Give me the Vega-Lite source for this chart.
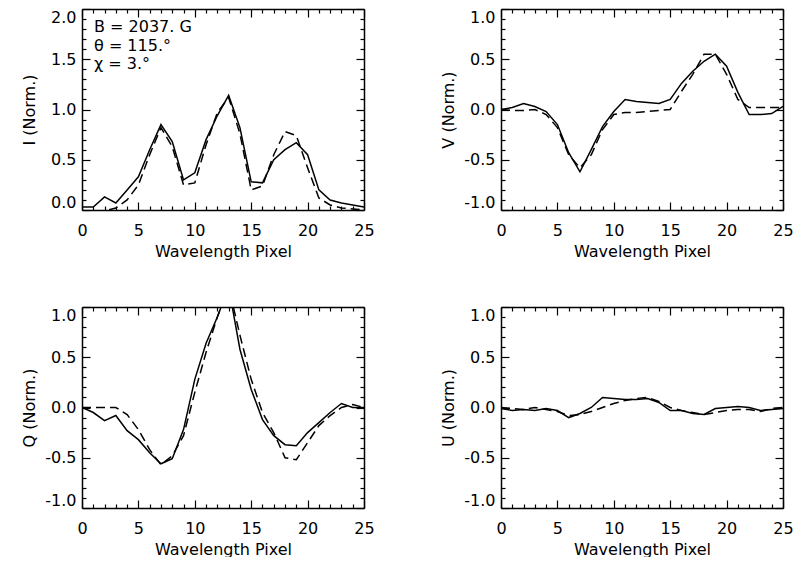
{
  "$schema": "https://vega.github.io/schema/vega-lite/v6.json",
  "padding": {"left": 21, "top": 8, "right": 0, "bottom": 0},
  "background": "white",
  "bounds": "flush",
  "spacing": {"row": 97, "column": 137},
  "columns": 2,
  "data": {"values": [
    {"p":"I","s":"o","x":0,"y":0.03},{"p":"I","s":"o","x":1,"y":0.03},{"p":"I","s":"o","x":2,"y":0.13},{"p":"I","s":"o","x":3,"y":0.07},{"p":"I","s":"o","x":4,"y":0.2},{"p":"I","s":"o","x":5,"y":0.33},{"p":"I","s":"o","x":6,"y":0.6},{"p":"I","s":"o","x":7,"y":0.85},{"p":"I","s":"o","x":8,"y":0.68},{"p":"I","s":"o","x":9,"y":0.3},{"p":"I","s":"o","x":10,"y":0.37},{"p":"I","s":"o","x":11,"y":0.7},{"p":"I","s":"o","x":12,"y":0.94},{"p":"I","s":"o","x":13,"y":1.14},{"p":"I","s":"o","x":14,"y":0.82},{"p":"I","s":"o","x":15,"y":0.28},{"p":"I","s":"o","x":16,"y":0.27},{"p":"I","s":"o","x":17,"y":0.5},{"p":"I","s":"o","x":18,"y":0.6},{"p":"I","s":"o","x":19,"y":0.67},{"p":"I","s":"o","x":20,"y":0.55},{"p":"I","s":"o","x":21,"y":0.2},{"p":"I","s":"o","x":22,"y":0.1},{"p":"I","s":"o","x":23,"y":0.07},{"p":"I","s":"o","x":24,"y":0.05},{"p":"I","s":"o","x":25,"y":0.03},
    {"p":"I","s":"f","x":0,"y":-0.05},{"p":"I","s":"f","x":1,"y":-0.05},{"p":"I","s":"f","x":2,"y":-0.01},{"p":"I","s":"f","x":3,"y":0.02},{"p":"I","s":"f","x":4,"y":0.1},{"p":"I","s":"f","x":5,"y":0.25},{"p":"I","s":"f","x":6,"y":0.55},{"p":"I","s":"f","x":7,"y":0.82},{"p":"I","s":"f","x":8,"y":0.63},{"p":"I","s":"f","x":9,"y":0.25},{"p":"I","s":"f","x":10,"y":0.27},{"p":"I","s":"f","x":11,"y":0.65},{"p":"I","s":"f","x":12,"y":0.97},{"p":"I","s":"f","x":13,"y":1.12},{"p":"I","s":"f","x":14,"y":0.76},{"p":"I","s":"f","x":15,"y":0.2},{"p":"I","s":"f","x":16,"y":0.24},{"p":"I","s":"f","x":17,"y":0.55},{"p":"I","s":"f","x":18,"y":0.78},{"p":"I","s":"f","x":19,"y":0.74},{"p":"I","s":"f","x":20,"y":0.42},{"p":"I","s":"f","x":21,"y":0.12},{"p":"I","s":"f","x":22,"y":0.05},{"p":"I","s":"f","x":23,"y":0.02},{"p":"I","s":"f","x":24,"y":0.01},{"p":"I","s":"f","x":25,"y":0.0},
    {"p":"V","s":"o","x":0,"y":0.0},{"p":"V","s":"o","x":1,"y":0.02},{"p":"V","s":"o","x":2,"y":0.06},{"p":"V","s":"o","x":3,"y":0.03},{"p":"V","s":"o","x":4,"y":-0.02},{"p":"V","s":"o","x":5,"y":-0.15},{"p":"V","s":"o","x":6,"y":-0.43},{"p":"V","s":"o","x":7,"y":-0.62},{"p":"V","s":"o","x":8,"y":-0.4},{"p":"V","s":"o","x":9,"y":-0.17},{"p":"V","s":"o","x":10,"y":-0.02},{"p":"V","s":"o","x":11,"y":0.1},{"p":"V","s":"o","x":12,"y":0.08},{"p":"V","s":"o","x":13,"y":0.07},{"p":"V","s":"o","x":14,"y":0.06},{"p":"V","s":"o","x":15,"y":0.1},{"p":"V","s":"o","x":16,"y":0.26},{"p":"V","s":"o","x":17,"y":0.38},{"p":"V","s":"o","x":18,"y":0.48},{"p":"V","s":"o","x":19,"y":0.55},{"p":"V","s":"o","x":20,"y":0.43},{"p":"V","s":"o","x":21,"y":0.17},{"p":"V","s":"o","x":22,"y":-0.05},{"p":"V","s":"o","x":23,"y":-0.05},{"p":"V","s":"o","x":24,"y":-0.04},{"p":"V","s":"o","x":25,"y":0.03},
    {"p":"V","s":"f","x":0,"y":0.0},{"p":"V","s":"f","x":1,"y":-0.01},{"p":"V","s":"f","x":2,"y":-0.01},{"p":"V","s":"f","x":3,"y":0.0},{"p":"V","s":"f","x":4,"y":-0.05},{"p":"V","s":"f","x":5,"y":-0.18},{"p":"V","s":"f","x":6,"y":-0.45},{"p":"V","s":"f","x":7,"y":-0.58},{"p":"V","s":"f","x":8,"y":-0.45},{"p":"V","s":"f","x":9,"y":-0.2},{"p":"V","s":"f","x":10,"y":-0.05},{"p":"V","s":"f","x":11,"y":-0.03},{"p":"V","s":"f","x":12,"y":-0.03},{"p":"V","s":"f","x":13,"y":-0.02},{"p":"V","s":"f","x":14,"y":-0.01},{"p":"V","s":"f","x":15,"y":0.0},{"p":"V","s":"f","x":16,"y":0.18},{"p":"V","s":"f","x":17,"y":0.35},{"p":"V","s":"f","x":18,"y":0.55},{"p":"V","s":"f","x":19,"y":0.55},{"p":"V","s":"f","x":20,"y":0.35},{"p":"V","s":"f","x":21,"y":0.1},{"p":"V","s":"f","x":22,"y":0.02},{"p":"V","s":"f","x":23,"y":0.02},{"p":"V","s":"f","x":24,"y":0.02},{"p":"V","s":"f","x":25,"y":0.02},
    {"p":"Q","s":"o","x":0,"y":0.0},{"p":"Q","s":"o","x":1,"y":-0.05},{"p":"Q","s":"o","x":2,"y":-0.13},{"p":"Q","s":"o","x":3,"y":-0.08},{"p":"Q","s":"o","x":4,"y":-0.23},{"p":"Q","s":"o","x":5,"y":-0.32},{"p":"Q","s":"o","x":6,"y":-0.45},{"p":"Q","s":"o","x":7,"y":-0.56},{"p":"Q","s":"o","x":8,"y":-0.51},{"p":"Q","s":"o","x":9,"y":-0.22},{"p":"Q","s":"o","x":10,"y":0.28},{"p":"Q","s":"o","x":11,"y":0.64},{"p":"Q","s":"o","x":12,"y":0.9},{"p":"Q","s":"o","x":13,"y":1.2},{"p":"Q","s":"o","x":14,"y":0.58},{"p":"Q","s":"o","x":15,"y":0.18},{"p":"Q","s":"o","x":16,"y":-0.12},{"p":"Q","s":"o","x":17,"y":-0.28},{"p":"Q","s":"o","x":18,"y":-0.37},{"p":"Q","s":"o","x":19,"y":-0.38},{"p":"Q","s":"o","x":20,"y":-0.25},{"p":"Q","s":"o","x":21,"y":-0.15},{"p":"Q","s":"o","x":22,"y":-0.05},{"p":"Q","s":"o","x":23,"y":0.04},{"p":"Q","s":"o","x":24,"y":0.0},{"p":"Q","s":"o","x":25,"y":0.0},
    {"p":"Q","s":"f","x":0,"y":0.0},{"p":"Q","s":"f","x":1,"y":0.0},{"p":"Q","s":"f","x":2,"y":0.0},{"p":"Q","s":"f","x":3,"y":0.0},{"p":"Q","s":"f","x":4,"y":-0.07},{"p":"Q","s":"f","x":5,"y":-0.22},{"p":"Q","s":"f","x":6,"y":-0.42},{"p":"Q","s":"f","x":7,"y":-0.57},{"p":"Q","s":"f","x":8,"y":-0.48},{"p":"Q","s":"f","x":9,"y":-0.28},{"p":"Q","s":"f","x":10,"y":0.15},{"p":"Q","s":"f","x":11,"y":0.55},{"p":"Q","s":"f","x":12,"y":0.9},{"p":"Q","s":"f","x":13,"y":1.2},{"p":"Q","s":"f","x":14,"y":0.72},{"p":"Q","s":"f","x":15,"y":0.28},{"p":"Q","s":"f","x":16,"y":-0.05},{"p":"Q","s":"f","x":17,"y":-0.25},{"p":"Q","s":"f","x":18,"y":-0.5},{"p":"Q","s":"f","x":19,"y":-0.52},{"p":"Q","s":"f","x":20,"y":-0.35},{"p":"Q","s":"f","x":21,"y":-0.18},{"p":"Q","s":"f","x":22,"y":-0.08},{"p":"Q","s":"f","x":23,"y":0.0},{"p":"Q","s":"f","x":24,"y":0.03},{"p":"Q","s":"f","x":25,"y":0.0},
    {"p":"U","s":"o","x":0,"y":-0.01},{"p":"U","s":"o","x":1,"y":-0.03},{"p":"U","s":"o","x":2,"y":-0.02},{"p":"U","s":"o","x":3,"y":-0.03},{"p":"U","s":"o","x":4,"y":-0.01},{"p":"U","s":"o","x":5,"y":-0.03},{"p":"U","s":"o","x":6,"y":-0.1},{"p":"U","s":"o","x":7,"y":-0.06},{"p":"U","s":"o","x":8,"y":0.0},{"p":"U","s":"o","x":9,"y":0.1},{"p":"U","s":"o","x":10,"y":0.09},{"p":"U","s":"o","x":11,"y":0.08},{"p":"U","s":"o","x":12,"y":0.08},{"p":"U","s":"o","x":13,"y":0.09},{"p":"U","s":"o","x":14,"y":0.05},{"p":"U","s":"o","x":15,"y":-0.03},{"p":"U","s":"o","x":16,"y":-0.03},{"p":"U","s":"o","x":17,"y":-0.06},{"p":"U","s":"o","x":18,"y":-0.07},{"p":"U","s":"o","x":19,"y":-0.01},{"p":"U","s":"o","x":20,"y":0.0},{"p":"U","s":"o","x":21,"y":0.01},{"p":"U","s":"o","x":22,"y":0.0},{"p":"U","s":"o","x":23,"y":-0.03},{"p":"U","s":"o","x":24,"y":-0.02},{"p":"U","s":"o","x":25,"y":-0.01},
    {"p":"U","s":"f","x":0,"y":0.0},{"p":"U","s":"f","x":1,"y":-0.01},{"p":"U","s":"f","x":2,"y":-0.02},{"p":"U","s":"f","x":3,"y":0.0},{"p":"U","s":"f","x":4,"y":-0.02},{"p":"U","s":"f","x":5,"y":-0.04},{"p":"U","s":"f","x":6,"y":-0.08},{"p":"U","s":"f","x":7,"y":-0.07},{"p":"U","s":"f","x":8,"y":-0.04},{"p":"U","s":"f","x":9,"y":0.0},{"p":"U","s":"f","x":10,"y":0.04},{"p":"U","s":"f","x":11,"y":0.07},{"p":"U","s":"f","x":12,"y":0.09},{"p":"U","s":"f","x":13,"y":0.1},{"p":"U","s":"f","x":14,"y":0.06},{"p":"U","s":"f","x":15,"y":0.0},{"p":"U","s":"f","x":16,"y":-0.03},{"p":"U","s":"f","x":17,"y":-0.05},{"p":"U","s":"f","x":18,"y":-0.07},{"p":"U","s":"f","x":19,"y":-0.05},{"p":"U","s":"f","x":20,"y":-0.03},{"p":"U","s":"f","x":21,"y":-0.02},{"p":"U","s":"f","x":22,"y":-0.02},{"p":"U","s":"f","x":23,"y":-0.04},{"p":"U","s":"f","x":24,"y":-0.01},{"p":"U","s":"f","x":25,"y":0.0}
  ]},
  "concat": [
    {
      "width": 282, "height": 201,
      "title": {"text": ["B = 2037. G", "θ = 115.°", "χ = 3.°"], "anchor": "start", "frame": "group", "orient": "top", "baseline": "top", "offset": -64, "dx": 12, "fontSize": 16, "fontWeight": "normal", "lineHeight": 18.5, "font": "DejaVu Sans", "color": "black"},
      "layer": [
        {"transform": [{"filter": "datum.p == 'I' && datum.s == 'o'"}],
         "mark": {"type": "line", "clip": true, "color": "black", "strokeWidth": 1.5},
         "encoding": {
           "x": {"field": "x", "type": "quantitative", "scale": {"domain": [0, 25], "nice": false, "zero": false},
                 "axis": {"orient": "bottom", "values": [0,1,2,3,4,5,6,7,8,9,10,11,12,13,14,15,16,17,18,19,20,21,22,23,24,25], "tickSize": {"condition": {"test": "datum.value % 5 === 0", "value": -8}, "value": -4}, "labelExpr": "datum.value % 5 === 0 ? datum.label : ''", "labelFlush": false, "labelOverlap": false, "labelPadding": 20, "title": "Wavelength Pixel", "titleY": 33, "titleBaseline": "top"}},
           "y": {"field": "y", "type": "quantitative", "scale": {"domain": [0, 2], "nice": false, "zero": false},
                 "axis": {"orient": "left", "values": [0,0.1,0.2,0.3,0.4,0.5,0.6,0.7,0.8,0.9,1,1.1,1.2,1.3,1.4,1.5,1.6,1.7,1.8,1.9,2], "tickSize": {"condition": {"test": "abs(datum.value*2 - round(datum.value*2)) < 0.001", "value": -8}, "value": -4}, "labelExpr": "abs(datum.value*2 - round(datum.value*2)) < 0.001 ? (datum.value < 0 ? '-' : '') + format(abs(datum.value), '.1f') : ''", "labelFlush": true, "labelOverlap": false, "labelPadding": 14, "title": "I (Norm.)", "titleX": -45, "titleY": 100.5}}
         }},
        {"transform": [{"filter": "datum.p == 'I' && datum.s == 'f'"}],
         "mark": {"type": "line", "clip": true, "color": "black", "strokeWidth": 1.5, "strokeDash": [9, 5]},
         "encoding": {
           "x": {"field": "x", "type": "quantitative", "scale": {"domain": [0, 25], "nice": false, "zero": false},
                 "axis": {"orient": "top", "values": [0,1,2,3,4,5,6,7,8,9,10,11,12,13,14,15,16,17,18,19,20,21,22,23,24,25], "tickSize": {"condition": {"test": "datum.value % 5 === 0", "value": -8}, "value": -4}, "labels": false, "title": null}},
           "y": {"field": "y", "type": "quantitative", "scale": {"domain": [0, 2], "nice": false, "zero": false},
                 "axis": {"orient": "right", "values": [0,0.1,0.2,0.3,0.4,0.5,0.6,0.7,0.8,0.9,1,1.1,1.2,1.3,1.4,1.5,1.6,1.7,1.8,1.9,2], "tickSize": {"condition": {"test": "abs(datum.value*2 - round(datum.value*2)) < 0.001", "value": -8}, "value": -4}, "labels": false, "title": null}}
         }}
      ],
      "resolve": {"axis": {"x": "independent", "y": "independent"}}
    },
    {
      "width": 282, "height": 201,
      "layer": [
        {"transform": [{"filter": "datum.p == 'V' && datum.s == 'o'"}],
         "mark": {"type": "line", "clip": true, "color": "black", "strokeWidth": 1.5},
         "encoding": {
           "x": {"field": "x", "type": "quantitative", "scale": {"domain": [0, 25], "nice": false, "zero": false},
                 "axis": {"orient": "bottom", "values": [0,1,2,3,4,5,6,7,8,9,10,11,12,13,14,15,16,17,18,19,20,21,22,23,24,25], "tickSize": {"condition": {"test": "datum.value % 5 === 0", "value": -8}, "value": -4}, "labelExpr": "datum.value % 5 === 0 ? datum.label : ''", "labelFlush": false, "labelOverlap": false, "labelPadding": 20, "title": "Wavelength Pixel", "titleY": 33, "titleBaseline": "top"}},
           "y": {"field": "y", "type": "quantitative", "scale": {"domain": [-1, 1], "nice": false, "zero": false},
                 "axis": {"orient": "left", "values": [-1,-0.9,-0.8,-0.7,-0.6,-0.5,-0.4,-0.3,-0.2,-0.1,0,0.1,0.2,0.3,0.4,0.5,0.6,0.7,0.8,0.9,1], "tickSize": {"condition": {"test": "abs(datum.value*2 - round(datum.value*2)) < 0.001", "value": -8}, "value": -4}, "labelExpr": "abs(datum.value*2 - round(datum.value*2)) < 0.001 ? (datum.value < 0 ? '-' : '') + format(abs(datum.value), '.1f') : ''", "labelFlush": true, "labelOverlap": false, "labelPadding": 14, "title": "V (Norm.)", "titleX": -45, "titleY": 100.5}}
         }},
        {"transform": [{"filter": "datum.p == 'V' && datum.s == 'f'"}],
         "mark": {"type": "line", "clip": true, "color": "black", "strokeWidth": 1.5, "strokeDash": [9, 5]},
         "encoding": {
           "x": {"field": "x", "type": "quantitative", "scale": {"domain": [0, 25], "nice": false, "zero": false},
                 "axis": {"orient": "top", "values": [0,1,2,3,4,5,6,7,8,9,10,11,12,13,14,15,16,17,18,19,20,21,22,23,24,25], "tickSize": {"condition": {"test": "datum.value % 5 === 0", "value": -8}, "value": -4}, "labels": false, "title": null}},
           "y": {"field": "y", "type": "quantitative", "scale": {"domain": [-1, 1], "nice": false, "zero": false},
                 "axis": {"orient": "right", "values": [-1,-0.9,-0.8,-0.7,-0.6,-0.5,-0.4,-0.3,-0.2,-0.1,0,0.1,0.2,0.3,0.4,0.5,0.6,0.7,0.8,0.9,1], "tickSize": {"condition": {"test": "abs(datum.value*2 - round(datum.value*2)) < 0.001", "value": -8}, "value": -4}, "labels": false, "title": null}}
         }}
      ],
      "resolve": {"axis": {"x": "independent", "y": "independent"}}
    },
    {
      "width": 282, "height": 201,
      "layer": [
        {"transform": [{"filter": "datum.p == 'Q' && datum.s == 'o'"}],
         "mark": {"type": "line", "clip": true, "color": "black", "strokeWidth": 1.5},
         "encoding": {
           "x": {"field": "x", "type": "quantitative", "scale": {"domain": [0, 25], "nice": false, "zero": false},
                 "axis": {"orient": "bottom", "values": [0,1,2,3,4,5,6,7,8,9,10,11,12,13,14,15,16,17,18,19,20,21,22,23,24,25], "tickSize": {"condition": {"test": "datum.value % 5 === 0", "value": -8}, "value": -4}, "labelExpr": "datum.value % 5 === 0 ? datum.label : ''", "labelFlush": false, "labelOverlap": false, "labelPadding": 20, "title": "Wavelength Pixel", "titleY": 33, "titleBaseline": "top"}},
           "y": {"field": "y", "type": "quantitative", "scale": {"domain": [-1, 1], "nice": false, "zero": false},
                 "axis": {"orient": "left", "values": [-1,-0.9,-0.8,-0.7,-0.6,-0.5,-0.4,-0.3,-0.2,-0.1,0,0.1,0.2,0.3,0.4,0.5,0.6,0.7,0.8,0.9,1], "tickSize": {"condition": {"test": "abs(datum.value*2 - round(datum.value*2)) < 0.001", "value": -8}, "value": -4}, "labelExpr": "abs(datum.value*2 - round(datum.value*2)) < 0.001 ? (datum.value < 0 ? '-' : '') + format(abs(datum.value), '.1f') : ''", "labelFlush": true, "labelOverlap": false, "labelPadding": 14, "title": "Q (Norm.)", "titleX": -45, "titleY": 100.5}}
         }},
        {"transform": [{"filter": "datum.p == 'Q' && datum.s == 'f'"}],
         "mark": {"type": "line", "clip": true, "color": "black", "strokeWidth": 1.5, "strokeDash": [9, 5]},
         "encoding": {
           "x": {"field": "x", "type": "quantitative", "scale": {"domain": [0, 25], "nice": false, "zero": false},
                 "axis": {"orient": "top", "values": [0,1,2,3,4,5,6,7,8,9,10,11,12,13,14,15,16,17,18,19,20,21,22,23,24,25], "tickSize": {"condition": {"test": "datum.value % 5 === 0", "value": -8}, "value": -4}, "labels": false, "title": null}},
           "y": {"field": "y", "type": "quantitative", "scale": {"domain": [-1, 1], "nice": false, "zero": false},
                 "axis": {"orient": "right", "values": [-1,-0.9,-0.8,-0.7,-0.6,-0.5,-0.4,-0.3,-0.2,-0.1,0,0.1,0.2,0.3,0.4,0.5,0.6,0.7,0.8,0.9,1], "tickSize": {"condition": {"test": "abs(datum.value*2 - round(datum.value*2)) < 0.001", "value": -8}, "value": -4}, "labels": false, "title": null}}
         }}
      ],
      "resolve": {"axis": {"x": "independent", "y": "independent"}}
    },
    {
      "width": 282, "height": 201,
      "layer": [
        {"transform": [{"filter": "datum.p == 'U' && datum.s == 'o'"}],
         "mark": {"type": "line", "clip": true, "color": "black", "strokeWidth": 1.5},
         "encoding": {
           "x": {"field": "x", "type": "quantitative", "scale": {"domain": [0, 25], "nice": false, "zero": false},
                 "axis": {"orient": "bottom", "values": [0,1,2,3,4,5,6,7,8,9,10,11,12,13,14,15,16,17,18,19,20,21,22,23,24,25], "tickSize": {"condition": {"test": "datum.value % 5 === 0", "value": -8}, "value": -4}, "labelExpr": "datum.value % 5 === 0 ? datum.label : ''", "labelFlush": false, "labelOverlap": false, "labelPadding": 20, "title": "Wavelength Pixel", "titleY": 33, "titleBaseline": "top"}},
           "y": {"field": "y", "type": "quantitative", "scale": {"domain": [-1, 1], "nice": false, "zero": false},
                 "axis": {"orient": "left", "values": [-1,-0.9,-0.8,-0.7,-0.6,-0.5,-0.4,-0.3,-0.2,-0.1,0,0.1,0.2,0.3,0.4,0.5,0.6,0.7,0.8,0.9,1], "tickSize": {"condition": {"test": "abs(datum.value*2 - round(datum.value*2)) < 0.001", "value": -8}, "value": -4}, "labelExpr": "abs(datum.value*2 - round(datum.value*2)) < 0.001 ? (datum.value < 0 ? '-' : '') + format(abs(datum.value), '.1f') : ''", "labelFlush": true, "labelOverlap": false, "labelPadding": 14, "title": "U (Norm.)", "titleX": -45, "titleY": 100.5}}
         }},
        {"transform": [{"filter": "datum.p == 'U' && datum.s == 'f'"}],
         "mark": {"type": "line", "clip": true, "color": "black", "strokeWidth": 1.5, "strokeDash": [9, 5]},
         "encoding": {
           "x": {"field": "x", "type": "quantitative", "scale": {"domain": [0, 25], "nice": false, "zero": false},
                 "axis": {"orient": "top", "values": [0,1,2,3,4,5,6,7,8,9,10,11,12,13,14,15,16,17,18,19,20,21,22,23,24,25], "tickSize": {"condition": {"test": "datum.value % 5 === 0", "value": -8}, "value": -4}, "labels": false, "title": null}},
           "y": {"field": "y", "type": "quantitative", "scale": {"domain": [-1, 1], "nice": false, "zero": false},
                 "axis": {"orient": "right", "values": [-1,-0.9,-0.8,-0.7,-0.6,-0.5,-0.4,-0.3,-0.2,-0.1,0,0.1,0.2,0.3,0.4,0.5,0.6,0.7,0.8,0.9,1], "tickSize": {"condition": {"test": "abs(datum.value*2 - round(datum.value*2)) < 0.001", "value": -8}, "value": -4}, "labels": false, "title": null}}
         }}
      ],
      "resolve": {"axis": {"x": "independent", "y": "independent"}}
    }
  ],
  "config": {
    "font": "DejaVu Sans",
    "view": {"stroke": null},
    "axis": {"grid": false, "domainColor": "black", "domainWidth": 1.5, "tickColor": "black", "tickWidth": 1.2, "labelColor": "black", "labelFontSize": 16, "labelFont": "DejaVu Sans", "titleFont": "DejaVu Sans", "titleFontSize": 16, "titleFontWeight": "normal", "titleColor": "black"}
  }
}
